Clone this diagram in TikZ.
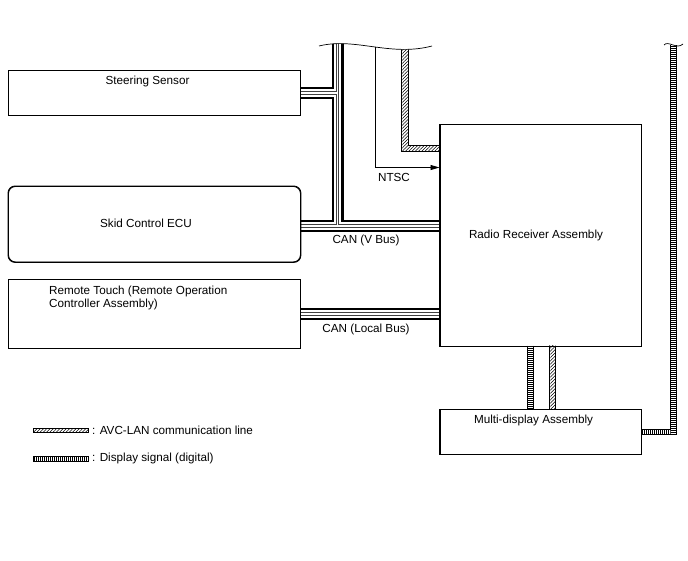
\documentclass[tikz,border=0pt]{standalone}
\usepackage{fontspec}
\setmainfont{Liberation Sans}
\usetikzlibrary{patterns.meta,arrows.meta,calc}
\begin{document}
\begin{tikzpicture}[x=1pt,y=-1pt,
  box/.style={draw,line width=0.9pt,inner sep=0,anchor=north west},
  lbl/.style={font=\fontsize{11.7}{13.5}\selectfont,inner sep=0},
  hatchfill/.style={pattern={Lines[angle=45,distance=2.3pt,line width=0.55pt]}},
  rungh/.style={pattern={Lines[angle=0,distance=2pt,line width=0.7pt]}},
  rungv/.style={pattern={Lines[angle=90,distance=2pt,line width=0.7pt]}},
  edge/.style={line width=0.5pt},
  wave/.style={line width=0.7pt}
]
\useasboundingbox (0,0) rectangle (688,560);

% boxes
\node[box,minimum width=292pt,minimum height=45pt] (ss) at (8,70) {};
\node[box,minimum width=292pt,minimum height=75.5pt,rounded corners=7pt] (sk) at (8,186) {};
\node[box,minimum width=292pt,minimum height=68.5pt] (rt) at (8,279) {};
\node[box,minimum width=201pt,minimum height=221.5pt] (radio) at (439.5,124) {};
\node[box,minimum width=201pt,minimum height=45pt] (md) at (439.5,409) {};

% cables, clipped below the wavy break line
\begin{scope}
\clip (0,560) -- (0,46) -- (319,46) .. controls (355,37) and (390,57) .. (432,46) -- (688,46) -- (688,560) -- cycle;
\coordinate (top1) at (337.5,36);
\coordinate (j1) at (337.5,226);
\foreach \w/\c in {12/black,7.6/white,3.6/black!75,1.8/white}{
  \draw[line width=\w pt,color=\c] (ss.east) -- (ss.east -| j1)
    (sk.east |- j1) -- (radio.west |- j1)
    (top1) -- (j1)
    (rt.east) -- (radio.west |- rt.east);
}
% NTSC
\coordinate (ntop) at (375,36);
\coordinate (nc) at (375,167.5);
\draw[line width=0.9pt,-{Triangle[length=9pt,width=5pt]}] (ntop) -- (nc) -- (radio.west |- nc);
% AVC-LAN line to radio
\fill[hatchfill] (401.5,36) rectangle (408,151.5);
\fill[hatchfill] (408,145.5) rectangle (radio.west |- 0,151.5);
\draw[edge] (401.5,36) -- (401.5,151.5) -- (radio.west |- 0,151.5)
            (radio.west |- 0,145.5) -- (408,145.5) -- (408,36);
\end{scope}

% wave lines
\draw[wave] (319,46) .. controls (355,37) and (390,57) .. (432,46);
\draw[wave] (664,45) .. controls (668,40) and (677,50) .. (683,44);

% radio -> multi-display links
\fill[rungh] (527,345.7) rectangle (533.3,409);
\draw[edge] (527,345.7) -- (527,409) (533.3,345.7) -- (533.3,409);
\fill[hatchfill] (549.3,345.7) rectangle (555.7,409);
\draw[edge] (549.3,345.7) -- (549.3,409) (555.7,345.7) -- (555.7,409);

% right display signal line
\fill[rungh] (670.5,45) rectangle (676,434);
\fill[rungv] (md.east |- 0,429) rectangle (670.5,434);
\draw[edge] (670.5,45) -- (670.5,429) -- (md.east |- 0,429)
            (md.east |- 0,434) -- (676,434) -- (676,45);

% redraw boxes on top
\draw[line width=0.9pt] (ss.north west) rectangle (ss.south east);
\draw[line width=0.9pt,rounded corners=7pt] (sk.north west) rectangle (sk.south east);
\draw[line width=0.9pt] (rt.north west) rectangle (rt.south east);
\draw[line width=0.9pt] (radio.north west) rectangle (radio.south east);
\draw[line width=0.9pt] (md.north west) rectangle (md.south east);

% texts
\node[lbl] (ssT) at (147.5,81) {Steering Sensor};
\node[lbl] (skT) at (146,223) {Skid Control ECU};
\node[lbl,anchor=north west,align=left] (rtT) at (49,285.5) {Remote Touch (Remote Operation\\Controller Assembly)};
\node[lbl] (radioT) at (536,235) {Radio Receiver Assembly};
\node[lbl] (mdT) at (533.5,420) {Multi-display Assembly};
\node[lbl] (ntscT) at (394,177) {NTSC};
\node[lbl] (canV) at (366,240) {CAN (V Bus)};
\node[lbl] (canL) at (366,329) {CAN (Local Bus)};

% legend
\fill[hatchfill] (33.3,428.3) rectangle (88,432.5);
\draw[edge] (33.3,428.3) rectangle (88,432.5);
\fill[rungv] (33.3,456.5) rectangle (88,460.8);
\draw[edge] (33.3,456.5) rectangle (88,460.8);
\node[lbl,anchor=west] (lg1) at (92,430.3) {: AVC-LAN communication line};
\node[lbl,anchor=west] (lg2) at (92,458.8) {: Display signal (digital)};
\end{tikzpicture}
\end{document}
